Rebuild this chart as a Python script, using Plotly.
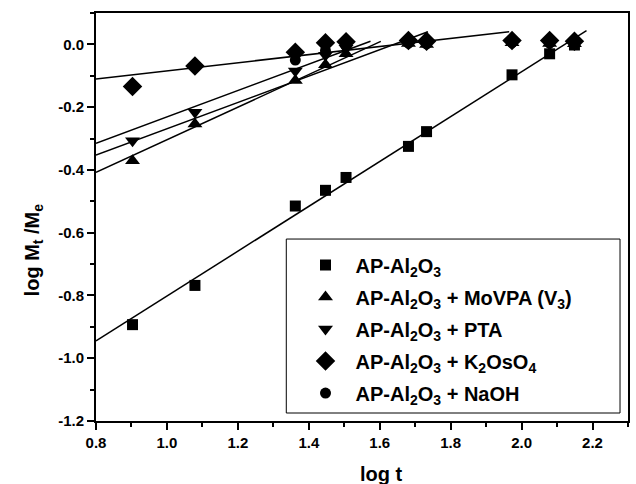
import plotly.graph_objects as go

# ---- data ----
log_t = [0.903, 1.079, 1.362, 1.447, 1.505, 1.681, 1.732, 1.973, 2.079, 2.149]

y_ap      = [-0.893, -0.768, -0.515, -0.465, -0.424, -0.325, -0.278, -0.097, -0.030, -0.002]
y_movpa   = [-0.371, -0.254, -0.115, -0.065, -0.030, 0.003, 0.000, 0.005, 0.003, 0.002]
y_pta     = [-0.307, -0.216, -0.085, -0.035, -0.012, 0.007, 0.005, 0.008, 0.006, 0.005]
y_k2oso4  = [-0.134, -0.069, -0.025, 0.005, 0.008, 0.012, 0.010, 0.012, 0.012, 0.010]
y_naoh    = [None, None, -0.050, -0.020, -0.005, 0.004, 0.002, 0.006, 0.004, 0.003]

series_names = [
    "AP-Al<sub>2</sub>O<sub>3</sub>",
    "AP-Al<sub>2</sub>O<sub>3</sub> + MoVPA (V<sub>3</sub>)",
    "AP-Al<sub>2</sub>O<sub>3</sub> + PTA",
    "AP-Al<sub>2</sub>O<sub>3</sub> + K<sub>2</sub>OsO<sub>4</sub>",
    "AP-Al<sub>2</sub>O<sub>3</sub> + NaOH",
]
series_values = [y_ap, y_movpa, y_pta, y_k2oso4, y_naoh]
series_symbols = ["square", "triangle-up", "triangle-down", "diamond", "circle"]
series_sizes = [11, 13, 13, 15, 11]

# linear fits: slope, y at log t = 0.8, x end
fit_slope = [0.715, 0.52, 0.42, 0.129, 0.42]
fit_y_start = [-0.945, -0.408, -0.315, -0.110, -0.353]
fit_x_start = [0.8, 0.8, 0.8, 0.8, 0.8]
fit_x_end = [2.183, 1.603, 1.574, 1.965, 1.736]

x_tickvals = [0.8, 1.0, 1.2, 1.4, 1.6, 1.8, 2.0, 2.2]
x_ticktext = ["0.8", "1.0", "1.2", "1.4", "1.6", "1.8", "2.0", "2.2"]
y_tickvals = [0.0, -0.2, -0.4, -0.6, -0.8, -1.0, -1.2]
y_ticktext = ["0.0", "-0.2", "-0.4", "-0.6", "-0.8", "-1.0", "-1.2"]

FONT = "Liberation Sans, Arial, sans-serif"

fig = go.Figure()

# fit lines
for i in range(len(series_names)):
    xs = [fit_x_start[i], fit_x_end[i]]
    ys = [fit_y_start[i] + fit_slope[i] * (x - fit_x_start[i]) for x in xs]
    fig.add_trace(go.Scatter(x=xs, y=ys, mode="lines", showlegend=False,
                             line=dict(color="black", width=1.5), hoverinfo="skip"))

# markers (NaOH first so it sits beneath)
order = [4, 0, 1, 2, 3]
for i in order:
    fig.add_trace(go.Scatter(
        x=log_t, y=series_values[i], mode="markers", name=series_names[i],
        legendrank=i + 1, legendgroup=f"g{i}",
        marker=dict(symbol=series_symbols[i], size=series_sizes[i], color="black",
                    line=dict(width=0)),
    ))

# legend frame
fig.add_shape(type="rect", xref="paper", yref="paper",
              x0=0.3577, x1=0.985, y0=0.0196, y1=0.446,
              line=dict(color="black", width=1), fillcolor="rgba(0,0,0,0)")

axis_common = dict(
    showgrid=False, zeroline=False, showline=True, linecolor="black", linewidth=2,
    mirror=True, ticks="outside", ticklen=7, tickwidth=2, tickcolor="black",
    tickfont=dict(family=FONT, size=15, color="black", weight="bold"),
    minor=dict(ticks="outside", ticklen=4, tickwidth=2, tickcolor="black", dtick=0.1),
)

fig.update_xaxes(range=[0.8, 2.3], tickvals=x_tickvals, ticktext=x_ticktext,
                 **axis_common)
fig.update_yaxes(range=[-1.2, 0.1], tickvals=y_tickvals, ticktext=y_ticktext,
                 **axis_common)

fig.add_annotation(text="log t", xref="paper", yref="paper", x=0.536, y=-0.13,
                   showarrow=False, yanchor="middle", xanchor="center",
                   font=dict(family=FONT, size=20, color="black", weight="bold"))
fig.add_annotation(text="log M<sub>t</sub> /M<sub>e</sub>", xref="paper", yref="paper",
                   x=-0.117, y=0.42, textangle=-90, showarrow=False,
                   xanchor="center", yanchor="middle",
                   font=dict(family=FONT, size=20, color="black", weight="bold"))

fig.update_layout(
    width=636, height=484,
    margin=dict(l=96, r=6, t=13, b=63),
    plot_bgcolor="white", paper_bgcolor="white",
    legend=dict(x=0.375, y=0.43, xanchor="left", yanchor="top",
                bgcolor="rgba(0,0,0,0)", borderwidth=0, tracegroupgap=3,
                itemwidth=50,
                font=dict(family=FONT, size=20, color="black", weight="bold")),
)

fig.write_html("out.html")
